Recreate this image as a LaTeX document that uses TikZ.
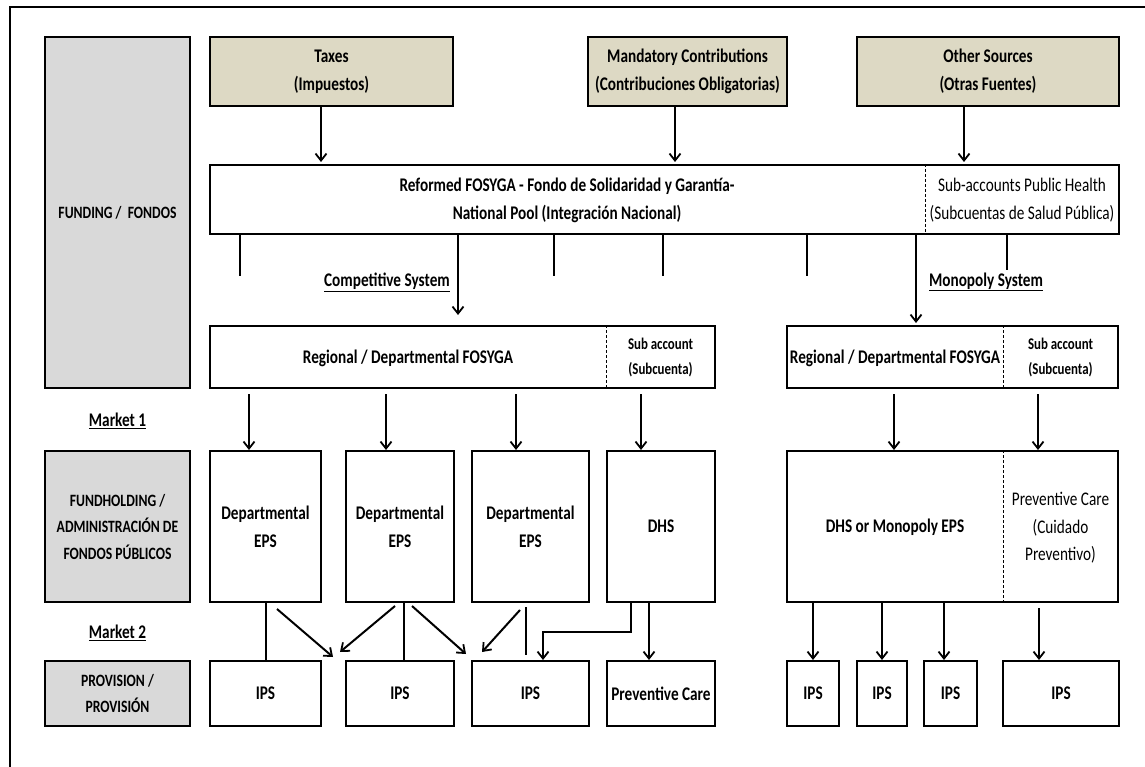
\documentclass[tikz,border=0pt]{standalone}
\usepackage{fontspec}
\setmainfont{Carlito}[FakeStretch=0.79]
\usetikzlibrary{arrows.meta}
\definecolor{grayfill}{HTML}{D9D9D9}
\definecolor{tanfill}{HTML}{DDD9C4}
\begin{document}
\begin{tikzpicture}[x=1pt,y=-1pt,
  font=\bfseries\fontsize{19.3}{28}\selectfont,
  box/.style={draw, line width=2pt, inner sep=0pt, align=center},
  gbox/.style={box, fill=grayfill, font=\bfseries\fontsize{17.3}{26.5}\selectfont},
  tbox/.style={box, fill=tanfill},
  txt/.style={inner sep=0pt, align=center},
  smalltxt/.style={txt, font=\bfseries\fontsize{16.3}{25}\selectfont},
  regtxt/.style={txt, font=\mdseries\fontsize{19.3}{27.5}\selectfont},
  arr/.style={-{Straight Barb[length=7pt,width=11pt,line width=1.8pt]}, line width=2pt},
  ln/.style={line width=2pt},
  divider/.style={densely dashed, line width=0.6pt}]
\useasboundingbox (0,0) rectangle (1145,767);
% frame
\draw[line width=2pt] (10,770) -- (10,7) -- (1148,7);

% left labels
\node[gbox, minimum width=145pt, minimum height=351pt] (fund) at (117.5,212.5) {FUNDING /\ \ FONDOS};
\node[gbox, minimum width=145pt, minimum height=151pt] (fundh) at (117.5,526.5) {FUNDHOLDING /\\ADMINISTRACIÓN DE\\FONDOS PÚBLICOS};
\node[gbox, minimum width=145pt, minimum height=65pt] (prov) at (117.5,693.5) {PROVISION /\\PROVISIÓN};
\node[txt] (m1) at (117.5,421) {\underline{Market 1}};
\node[txt] (m2) at (117.5,633) {\underline{Market 2}};

% sources
\node[tbox, minimum width=243pt, minimum height=69pt] (taxes) at (331.5,71.5) {Taxes\\(Impuestos)};
\node[tbox, minimum width=199pt, minimum height=69pt] (mand) at (687.5,71.5) {Mandatory Contributions\\(Contribuciones Obligatorias)};
\node[tbox, minimum width=262pt, minimum height=69pt] (other) at (988,71.5) {Other Sources\\(Otras Fuentes)};

% national pool
\node[box, minimum width=909pt, minimum height=69pt] (pool) at (664.5,199.5) {};
\node[txt] (pooltxt) at (567,200) {Reformed FOSYGA - Fondo de Solidaridad y Garantía-\\National Pool (Integración Nacional)};
\node[regtxt] (subacc) at (1022,200) {Sub-accounts Public Health\\(Subcuentas de Salud Pública)};
\draw[divider] (925,0 |- pool.north) -- (925,0 |- pool.south);

\draw[arr, shorten >=2pt] (321,0 |- taxes.south) -- (321,0 |- pool.north);
\draw[arr, shorten >=2pt] (675,0 |- mand.south) -- (675,0 |- pool.north);
\draw[arr, shorten >=2pt] (964,0 |- other.south) -- (964,0 |- pool.north);

% ticks
\draw[ln] (240,0 |- pool.south) -- ++(0,41);
\draw[ln] (554,0 |- pool.south) -- ++(0,41);
\draw[ln] (663,0 |- pool.south) -- ++(0,41);
\draw[ln] (807,0 |- pool.south) -- ++(0,41);
\draw[ln] (1007,0 |- pool.south) -- ++(0,35);

\node[txt] (comp) at (387,282) {\underline{Competitive System}};
\node[txt] (mono) at (986,282) {\underline{Monopoly System}};

% regional boxes
\node[box, minimum width=505pt, minimum height=62pt] (reg1) at (462.5,357) {};
\node[txt] (reg1txt) at (408,358) {Regional / Departmental FOSYGA};
\node[smalltxt] (reg1sub) at (660.5,358) {Sub account\\(Subcuenta)};
\draw[divider] (606,0 |- reg1.north) -- (606,0 |- reg1.south);

\node[box, minimum width=331pt, minimum height=62pt] (reg2) at (952.5,357) {};
\node[txt] (reg2txt) at (895,358) {Regional / Departmental FOSYGA};
\node[smalltxt] (reg2sub) at (1060.5,358) {Sub account\\(Subcuenta)};
\draw[divider] (1003,0 |- reg2.north) -- (1003,0 |- reg2.south);

\draw[arr, shorten >=10pt] (458,0 |- pool.south) -- (458,0 |- reg1.north);
\draw[arr, shorten >=2pt] (916,0 |- pool.south) -- (916,0 |- reg2.north);

% fundholding
\node[box, minimum width=111pt, minimum height=151pt] (eps1) at (265.5,526.5) {Departmental\\EPS};
\node[box, minimum width=108pt, minimum height=151pt] (eps2) at (400,526.5) {Departmental\\EPS};
\node[box, minimum width=117pt, minimum height=151pt] (eps3) at (530.5,526.5) {Departmental\\EPS};
\node[box, minimum width=108pt, minimum height=151pt] (dhs) at (661,526.5) {DHS};
\node[box, minimum width=331pt, minimum height=151pt] (monobox) at (952.5,526.5) {};
\node[txt] (monotxt) at (895,527) {DHS or Monopoly EPS};
\node[regtxt] (prevtxt) at (1060.5,528) {Preventive Care\\(Cuidado\\Preventivo)};
\draw[divider] (1003,0 |- monobox.north) -- (1003,0 |- monobox.south);

\draw[arr, shorten <=5pt] (249,0 |- reg1.south) -- (249,0 |- eps1.north);
\draw[arr, shorten <=5pt] (386,0 |- reg1.south) -- (386,0 |- eps2.north);
\draw[arr, shorten <=5pt] (516,0 |- reg1.south) -- (516,0 |- eps3.north);
\draw[arr, shorten <=5pt] (641,0 |- reg1.south) -- (641,0 |- dhs.north);
\draw[arr, shorten <=5pt] (894,0 |- reg2.south) -- (894,0 |- monobox.north);
\draw[arr, shorten <=5pt] (1038,0 |- reg2.south) -- (1038,0 |- monobox.north);

% provision
\node[box, minimum width=111pt, minimum height=65pt] (ips1) at (265.5,693.5) {IPS};
\node[box, minimum width=108pt, minimum height=65pt] (ips2) at (400,693.5) {IPS};
\node[box, minimum width=117pt, minimum height=65pt] (ips3) at (530.5,693.5) {IPS};
\node[box, minimum width=108pt, minimum height=65pt] (prev) at (661,693.5) {Preventive Care};
\node[box, minimum width=52pt, minimum height=65pt] (ipsA) at (813,693.5) {IPS};
\node[box, minimum width=50pt, minimum height=65pt] (ipsB) at (882,693.5) {IPS};
\node[box, minimum width=53pt, minimum height=65pt] (ipsC) at (950.5,693.5) {IPS};
\node[box, minimum width=116pt, minimum height=65pt] (ipsD) at (1061,693.5) {IPS};

% market 2 connectors (competitive)
\draw[ln] (eps1.south) -- (ips1.north);
\draw[arr] ([shift={(11.5,6)}]eps1.south) -- ([shift={(-12,-3)}]ips2.north west);
\draw[arr] ([shift={(-5,3)}]eps2.south) -- ([shift={(-5,-8)}]ips2.north west);
\draw[ln] (403.5,0 |- eps2.south) -- (403.5,0 |- ips2.north);
\draw[arr] ([shift={(12,3)}]eps2.south) -- ([shift={(-5,-6)}]ips3.north west);
\draw[arr] ([shift={(-10.5,7)}]eps3.south) -- ([shift={(11,-8)}]ips3.north west);
\draw[ln, shorten <=4pt, shorten >=5pt] (526,0 |- eps3.south) -- (526,0 |- ips3.north);
\draw[arr] (631,0 |- dhs.south) -- (631,632) -- (543,632) -- (543,0 |- ips3.north);
\draw[arr] (649,0 |- dhs.south) -- (649,0 |- prev.north);

% market 2 connectors (monopoly)
\draw[arr] (813,0 |- monobox.south) -- (ipsA.north);
\draw[arr] (882,0 |- monobox.south) -- (ipsB.north);
\draw[arr] (944,0 |- monobox.south) -- (944,0 |- ipsC.north);
\draw[arr, shorten <=5pt] (1039,0 |- monobox.south) -- (1039,0 |- ipsD.north);
\end{tikzpicture}
\end{document}
